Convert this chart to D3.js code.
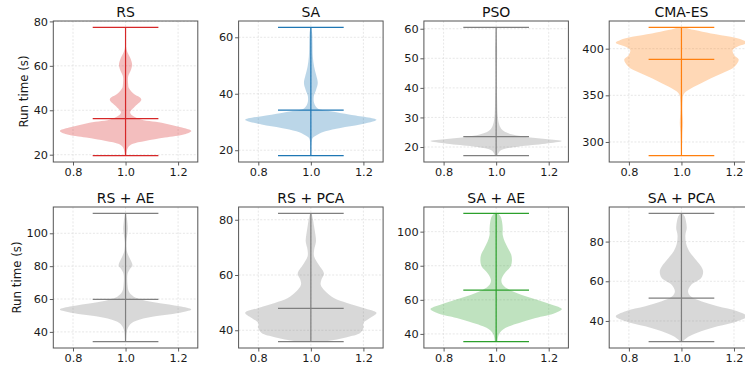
<!DOCTYPE html>
<html>
<head>
<meta charset="utf-8">
<script src="https://cdn.jsdelivr.net/npm/d3@7"></script>
<style>
  html, body { margin: 0; padding: 0; background: #fff; }
  svg { display: block; font-family: "DejaVu Sans", sans-serif; }
</style>
</head>
<body>
<svg id="chart" width="745" height="370"></svg>
<script>
// Run-time distributions of eight optimisers, drawn as violins.
const titles  = ["RS", "SA", "PSO", "CMA-ES", "RS + AE", "RS + PCA", "SA + AE", "SA + PCA"];
const colors  = ["#d62728", "#1f77b4", "#7f7f7f", "#ff7f0e", "#7f7f7f", "#7f7f7f", "#2ca02c", "#7f7f7f"];
const minimum = [19.6, 18.1, 17.1, 285.4, 34.1, 35.9, 35.5, 29.6];
const maximum = [77.3, 63.5, 60.45, 422.8, 112.1, 82.3, 110.7, 94.2];
const means   = [36.2, 34.2, 23.5, 388.6, 59.8, 47.9, 65.7, 51.5];

const yTicks = [
  [20, 40, 60, 80],
  [20, 40, 60],
  [20, 30, 40, 50, 60],
  [300, 350, 400],
  [40, 60, 80, 100],
  [40, 60, 80],
  [40, 60, 80, 100],
  [40, 60, 80]
];
const xTicks = [0.8, 1.0, 1.2];

// Density profiles: [run time, relative half-width (1 = widest point)]
const rsProfile = [[19.6,0.01],[21,0.015],[23.3,0.04],[24.8,0.1],[26.2,0.3],[27.7,0.6],[29.2,0.9],[30.7,1.0],[32.2,0.86],[34.4,0.55],[36.2,0.2],[38.9,0.07],[41.9,0.15],[44.9,0.24],[47.5,0.12],[50,0.05],[51.6,0.04],[55.3,0.04],[58,0.08],[60.5,0.1],[63,0.08],[66,0.03],[68,0.01],[72,0.005],[77.3,0.003]];
const saProfile = [[18.1,0.005],[22.6,0.01],[24.4,0.03],[25.5,0.1],[26.7,0.22],[27.9,0.45],[29.1,0.75],[30.8,1.0],[32.6,0.6],[33.8,0.3],[34.9,0.1],[36.7,0.05],[39.1,0.045],[41.4,0.08],[43.8,0.105],[46.7,0.08],[49.6,0.05],[53.2,0.03],[57.9,0.025],[61.4,0.02],[63.5,0.005]];
const psoProfile = [[17.1,0.02],[17.7,0.03],[18.5,0.05],[19.3,0.12],[20.2,0.35],[21.1,0.75],[22.0,1.0],[22.7,0.75],[23.4,0.45],[24.2,0.25],[25.3,0.12],[26.4,0.07],[28.1,0.04],[30.3,0.025],[36,0.015],[41.6,0.008],[47.2,0.01],[52.8,0.015],[56.2,0.008],[60.45,0.003]];
const cmaProfile = [[285.4,0.005],[298.9,0.01],[309.6,0.015],[320.3,0.025],[334.5,0.015],[345.2,0.02],[350.5,0.03],[354.1,0.07],[357.7,0.15],[363.0,0.3],[368.3,0.45],[373.7,0.62],[379.0,0.78],[384.3,0.85],[388.6,0.87],[393.2,0.8],[398.6,0.78],[402.1,0.85],[406.4,1.0],[409.3,0.93],[412.8,0.75],[416.4,0.45],[419.9,0.2],[422.8,0.05]];
const rsAeProfile = [[34.1,0.008],[40.4,0.02],[43.4,0.05],[45.5,0.1],[47.5,0.22],[49.5,0.45],[51.5,0.8],[53.7,1.0],[55.6,0.82],[57.6,0.5],[59.6,0.25],[61.6,0.12],[64.6,0.05],[68.7,0.03],[75.3,0.03],[77.8,0.06],[80.5,0.105],[83.5,0.08],[85.9,0.05],[88.9,0.02],[93.9,0.01],[99,0.025],[102.5,0.035],[106,0.03],[109.1,0.02],[112.1,0.005]];
const rsPcaProfile = [[35.9,0.2],[36.5,0.35],[37.5,0.55],[39.0,0.75],[40.8,0.8],[42.6,0.8],[44.4,0.9],[46.3,1.0],[48.1,0.8],[49.9,0.55],[51.7,0.35],[54.1,0.22],[56.5,0.15],[58.3,0.16],[60.5,0.2],[63.7,0.12],[66.7,0.05],[69.1,0.05],[72.1,0.078],[74.5,0.07],[77.5,0.05],[80.5,0.03],[82.3,0.01]];
const saAeProfile = [[35.5,0.02],[39.6,0.04],[42.5,0.1],[44.5,0.2],[46.4,0.35],[49.3,0.6],[52.3,0.9],[54.6,1.0],[57.1,0.85],[60.1,0.62],[63.0,0.38],[65.9,0.2],[68.8,0.1],[71.8,0.08],[75.6,0.13],[79.5,0.22],[82.9,0.24],[86.4,0.23],[90.3,0.18],[94.2,0.13],[98.1,0.1],[101.9,0.1],[105.8,0.09],[108.8,0.07],[110.7,0.03]];
const saPcaProfile = [[29.6,0.02],[30.6,0.05],[32.3,0.12],[34.8,0.3],[37.3,0.55],[39.9,0.85],[42.3,1.0],[44.9,0.85],[47.4,0.55],[49.9,0.3],[52.4,0.14],[54.9,0.1],[58.2,0.15],[61.6,0.3],[64.9,0.33],[67.4,0.3],[71.6,0.2],[75.0,0.12],[79.2,0.07],[83.3,0.06],[86.7,0.08],[90.0,0.07],[92.6,0.05],[94.2,0.02]];

const profiles = [rsProfile, saProfile, psoProfile, cmaProfile, rsAeProfile, rsPcaProfile, saAeProfile, saPcaProfile];

const svg = d3.select("#chart");
const W = 144.5, H = 141;
const colLeft = i => 53.3 + i * 185.3;
const rowTop = [21, 207];
const yLabelX = [24.3, 17.3];

titles.forEach((title, k) => {
  const row = Math.floor(k / 4), col = k % 4;
  const left = colLeft(col), top = rowTop[row];
  const span = maximum[k] - minimum[k];

  const x = d3.scaleLinear().domain([0.725, 1.275]).range([0, W]);
  const y = d3.scaleLinear()
    .domain([minimum[k] - 0.05 * span, maximum[k] + 0.05 * span])
    .range([H, 0]);

  const g = svg.append("g").attr("transform", `translate(${left},${top})`);

  const clipId = "clip" + k;
  g.append("clipPath").attr("id", clipId)
    .append("rect").attr("width", W).attr("height", H);

  // grid
  const grid = g.append("g").attr("stroke", "#dcdcdc").attr("stroke-width", 0.7)
    .attr("stroke-dasharray", "2,1.6");
  yTicks[k].forEach(t => grid.append("line")
    .attr("x1", 0).attr("x2", W).attr("y1", y(t)).attr("y2", y(t)));
  xTicks.forEach(t => grid.append("line")
    .attr("x1", x(t)).attr("x2", x(t)).attr("y1", 0).attr("y2", H));

  // violin body
  const halfW = 0.25;
  const area = d3.area()
    .curve(d3.curveCatmullRom.alpha(0.5))
    .y(d => y(d[0]))
    .x0(d => x(1 - halfW * d[1]))
    .x1(d => x(1 + halfW * d[1]));

  const plot = g.append("g").attr("clip-path", `url(#${clipId})`);
  plot.append("path")
    .datum(profiles[k])
    .attr("d", area)
    .attr("fill", colors[k])
    .attr("fill-opacity", 0.3)
    .attr("stroke", "none");

  // extrema, mean and central bar
  const lines = plot.append("g").attr("stroke", colors[k]).attr("stroke-width", 1.2);
  lines.append("line").attr("x1", x(1)).attr("x2", x(1))
    .attr("y1", y(minimum[k])).attr("y2", y(maximum[k]));
  [minimum[k], maximum[k], means[k]].forEach(v => lines.append("line")
    .attr("x1", x(0.875)).attr("x2", x(1.125))
    .attr("y1", y(v)).attr("y2", y(v)));

  // axes
  const ax = g.append("g").attr("transform", `translate(0,${H})`)
    .call(d3.axisBottom(x).tickValues(xTicks).tickFormat(d3.format(".1f")).tickSize(3.5).tickPadding(2));
  const ay = g.append("g")
    .call(d3.axisLeft(y).tickValues(yTicks[k]).tickFormat(d3.format("d")).tickSize(3.5).tickPadding(1.8));
  [ax, ay].forEach(a => {
    a.select(".domain").remove();
    a.selectAll(".tick line").attr("stroke", "#333").attr("stroke-width", 0.8);
    a.selectAll(".tick text").attr("fill", "#1a1a1a").attr("font-size", "11.3px")
      .attr("font-family", "DejaVu Sans, sans-serif");
  });

  // frame
  g.append("rect").attr("width", W).attr("height", H)
    .attr("fill", "none").attr("stroke", "#555").attr("stroke-width", 1);

  // title
  g.append("text").attr("x", W / 2).attr("y", -4.2)
    .attr("text-anchor", "middle").attr("font-size", "14px").attr("fill", "#111")
    .text(title);

  if (col === 0) {
    svg.append("text")
      .attr("transform", `translate(${yLabelX[row]},${top + H / 2}) rotate(-90)`)
      .attr("text-anchor", "middle").attr("dy", "0.35em")
      .attr("font-size", "11.8px").attr("fill", "#1a1a1a")
      .text("Run time (s)");
  }
});
</script>
</body>
</html>
